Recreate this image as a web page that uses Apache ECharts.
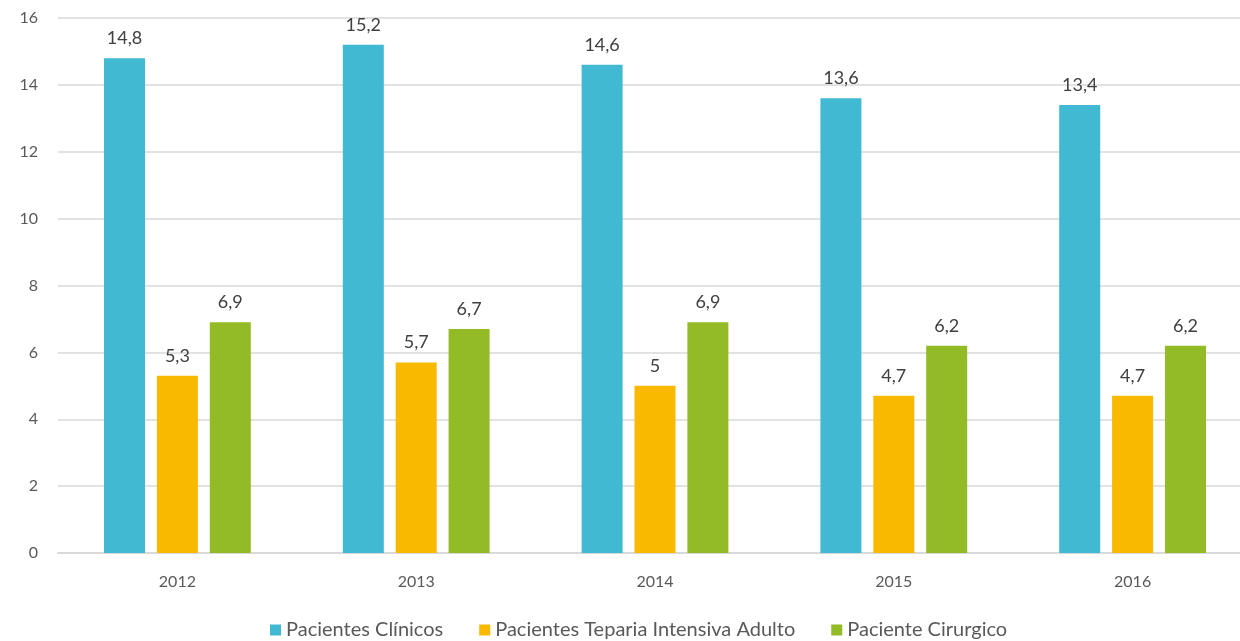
<!DOCTYPE html>
<html>
<head>
<meta charset="utf-8">
<script src="https://cdn.jsdelivr.net/npm/echarts@6/dist/echarts.min.js"></script>
<style>
  html, body { margin: 0; padding: 0; background: #fff; overflow: hidden; }
  /* a bit wider than the window: the plot area runs past the right edge */
  #chart { width: 1262px; height: 641px; }
</style>
</head>
<body>
<div id="chart"></div>
<script>
  const years = ['2012', '2013', '2014', '2015', '2016']
  const clinicos = [14.8, 15.2, 14.6, 13.6, 13.4]
  const uti = [5.3, 5.7, 5.0, 4.7, 4.7]
  const cirurgico = [6.9, 6.7, 6.9, 6.2, 6.2]
  const yTicks = [0, 2, 4, 6, 8, 10, 12, 14, 16]

  const font = 'Lato, "Open Sans", sans-serif'
  const fmt = p => String(p.value).replace('.', ',')

  const label = {
    show: true,
    position: 'top',
    distance: 11,
    color: '#404040',
    fontSize: 18,
    fontFamily: font,
    formatter: fmt
  }

  const chart = echarts.init(document.getElementById('chart'))
  chart.setOption({
    animation: false,
    textStyle: { fontFamily: font },
    grid: { left: 58, right: 10, top: 18, bottom: 88 },
    legend: {
      top: 615,
      left: 265,
      itemWidth: 11,
      itemHeight: 11,
      itemGap: 36,
      icon: 'rect',
      textStyle: { color: '#595959', fontSize: 20, fontFamily: font }
    },
    xAxis: {
      type: 'category',
      data: years,
      axisLine: { lineStyle: { color: '#d9d9d9', width: 2 } },
      axisTick: { show: false },
      axisLabel: { color: '#595959', fontSize: 16, margin: 21 }
    },
    yAxis: {
      type: 'value',
      min: yTicks[0],
      max: yTicks[yTicks.length - 1],
      interval: 2,
      axisLine: { show: false },
      axisTick: { show: false },
      splitLine: { lineStyle: { color: '#d9d9d9', width: 1.5 } },
      axisLabel: { color: '#595959', fontSize: 16, margin: 20, align: 'right' }
    },
    series: [
      {
        name: 'Pacientes Clínicos',
        type: 'bar',
        data: clinicos,
        barWidth: 41,
        barGap: '29%',
        itemStyle: { color: '#41b9d3' },
        label
      },
      {
        name: 'Pacientes Teparia Intensiva Adulto',
        type: 'bar',
        data: uti,
        barWidth: 41,
        barGap: '29%',
        itemStyle: { color: '#f9b900' },
        label
      },
      {
        name: 'Paciente Cirurgico',
        type: 'bar',
        data: cirurgico,
        barWidth: 41,
        barGap: '29%',
        itemStyle: { color: '#92bb26' },
        label
      }
    ]
  })
</script>
</body>
</html>
